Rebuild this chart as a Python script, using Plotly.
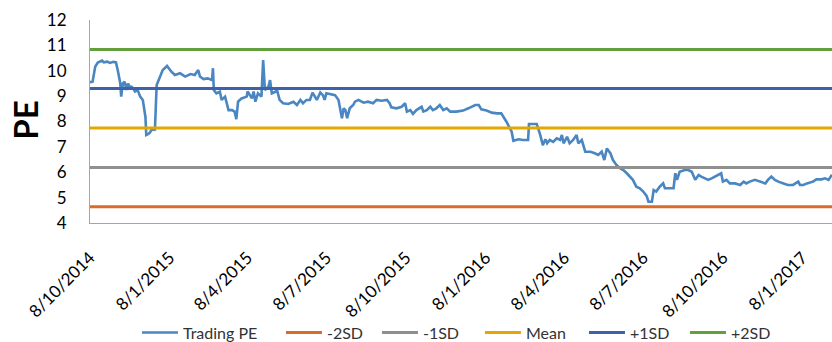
import plotly.graph_objects as go

# ---- data ----
dates = [
    "2014-10-08", "2014-10-11", "2014-10-14", "2014-10-17", "2014-10-22", "2014-10-24", "2014-10-28", "2014-10-31",
    "2014-11-04", "2014-11-07", "2014-11-09", "2014-11-12", "2014-11-13", "2014-11-15", "2014-11-17", "2014-11-19",
    "2014-11-21", "2014-11-23", "2014-11-25", "2014-11-27", "2014-11-29", "2014-12-02", "2014-12-05", "2014-12-08",
    "2014-12-11", "2014-12-12", "2014-12-14", "2014-12-16", "2014-12-18", "2014-12-22", "2014-12-23", "2014-12-24",
    "2014-12-28", "2014-12-31", "2015-01-05", "2015-01-07", "2015-01-10", "2015-01-14", "2015-01-20", "2015-01-26",
    "2015-02-01", "2015-02-06", "2015-02-10", "2015-02-12", "2015-02-16", "2015-02-21", "2015-02-26", "2015-02-27",
    "2015-02-28", "2015-03-03", "2015-03-07", "2015-03-09", "2015-03-13", "2015-03-17", "2015-03-21", "2015-03-24",
    "2015-03-26", "2015-03-28", "2015-04-01", "2015-04-07", "2015-04-08", "2015-04-13", "2015-04-15", "2015-04-17",
    "2015-04-20", "2015-04-24", "2015-04-26", "2015-04-28", "2015-05-02", "2015-05-04", "2015-05-06", "2015-05-10",
    "2015-05-12", "2015-05-15", "2015-05-19", "2015-05-25", "2015-05-31", "2015-06-04", "2015-06-08", "2015-06-11",
    "2015-06-15", "2015-06-19", "2015-06-22", "2015-06-27", "2015-07-01", "2015-07-04", "2015-07-06", "2015-07-08",
    "2015-07-14", "2015-07-18", "2015-07-22", "2015-07-24", "2015-07-26", "2015-07-28", "2015-07-30", "2015-08-01",
    "2015-08-04", "2015-08-08", "2015-08-10", "2015-08-14", "2015-08-20", "2015-08-25", "2015-08-31", "2015-09-04",
    "2015-09-10", "2015-09-16", "2015-09-19", "2015-09-21", "2015-09-27", "2015-10-03", "2015-10-07", "2015-10-09",
    "2015-10-13", "2015-10-16", "2015-10-20", "2015-10-26", "2015-10-28", "2015-11-01", "2015-11-05", "2015-11-08",
    "2015-11-12", "2015-11-16", "2015-11-20", "2015-11-24", "2015-11-28", "2015-12-05", "2015-12-13", "2015-12-19",
    "2015-12-27", "2015-12-31", "2016-01-03", "2016-01-09", "2016-01-15", "2016-01-21", "2016-01-26", "2016-02-01",
    "2016-02-07", "2016-02-09", "2016-02-15", "2016-02-20", "2016-02-26", "2016-02-27", "2016-03-07", "2016-03-11",
    "2016-03-14", "2016-03-17", "2016-03-19", "2016-03-22", "2016-03-26", "2016-03-30", "2016-04-03", "2016-04-05",
    "2016-04-07", "2016-04-11", "2016-04-14", "2016-04-18", "2016-04-22", "2016-04-24", "2016-04-28", "2016-05-02",
    "2016-05-08", "2016-05-13", "2016-05-17", "2016-05-21", "2016-05-24", "2016-05-27", "2016-05-31", "2016-06-03",
    "2016-06-07", "2016-06-11", "2016-06-15", "2016-06-19", "2016-06-23", "2016-06-26", "2016-06-30", "2016-07-04",
    "2016-07-08", "2016-07-12", "2016-07-14", "2016-07-18", "2016-07-20", "2016-07-23", "2016-07-27", "2016-07-31",
    "2016-08-02", "2016-08-06", "2016-08-12", "2016-08-14", "2016-08-16", "2016-08-19", "2016-08-25", "2016-08-29",
    "2016-09-02", "2016-09-06", "2016-09-10", "2016-09-13", "2016-09-17", "2016-09-21", "2016-09-25", "2016-09-29",
    "2016-10-03", "2016-10-06", "2016-10-08", "2016-10-12", "2016-10-16", "2016-10-22", "2016-10-28", "2016-11-01",
    "2016-11-04", "2016-11-08", "2016-11-14", "2016-11-20", "2016-11-26", "2016-11-29", "2016-12-03", "2016-12-07",
    "2016-12-11", "2016-12-17", "2016-12-22", "2016-12-28", "2017-01-03", "2017-01-05", "2017-01-09", "2017-01-13",
    "2017-01-20", "2017-01-24", "2017-01-30", "2017-02-03", "2017-02-07", "2017-02-11",
]

trading_pe = [
    9.55, 9.57, 10.16, 10.32, 10.40, 10.33, 10.36, 10.31,
    10.35, 10.33, 10.03, 9.50, 8.98, 9.50, 9.57, 9.24,
    9.50, 9.35, 9.37, 9.30, 9.18, 9.24, 8.98, 8.85,
    8.19, 7.47, 7.50, 7.55, 7.67, 7.68, 8.58, 9.44,
    9.77, 10.03, 10.19, 10.10, 9.96, 9.83, 9.90, 9.77,
    9.87, 9.83, 10.03, 9.77, 9.67, 9.70, 9.63, 10.10,
    9.24, 9.11, 9.18, 8.85, 8.98, 8.45, 8.45, 8.39,
    8.09, 8.78, 8.91, 8.98, 9.18, 8.91, 9.18, 8.78,
    9.11, 8.98, 10.42, 9.24, 9.37, 9.63, 9.11, 9.17,
    9.24, 8.85, 8.72, 8.69, 8.78, 8.65, 8.85, 8.72,
    8.85, 8.85, 9.14, 8.85, 9.14, 9.04, 8.85, 9.11,
    9.08, 9.04, 8.85, 8.45, 8.13, 8.52, 8.45, 8.13,
    8.52, 8.65, 8.78, 8.85, 8.74, 8.78, 8.72, 8.85,
    8.82, 8.85, 8.72, 8.56, 8.52, 8.58, 8.72, 8.39,
    8.45, 8.30, 8.45, 8.58, 8.39, 8.45, 8.58, 8.45,
    8.52, 8.65, 8.45, 8.52, 8.39, 8.39, 8.43, 8.52,
    8.65, 8.65, 8.48, 8.43, 8.35, 8.32, 8.32, 7.99,
    7.60, 7.24, 7.30, 7.27, 7.27, 7.90, 7.90, 7.47,
    7.07, 7.30, 7.14, 7.27, 7.20, 7.34, 7.27, 7.47,
    7.14, 7.40, 7.14, 7.27, 7.47, 7.14, 7.27, 6.81,
    6.81, 6.75, 6.68, 6.81, 6.48, 6.94, 6.75, 6.48,
    6.29, 6.16, 6.09, 5.96, 5.83, 5.70, 5.43, 5.37,
    5.24, 5.06, 4.84, 4.84, 5.30, 5.24, 5.43, 5.56,
    5.37, 5.37, 5.37, 5.96, 5.70, 6.02, 6.09, 6.09,
    6.02, 5.70, 5.89, 5.83, 5.76, 5.70, 5.76, 5.83,
    5.89, 5.96, 5.63, 5.70, 5.56, 5.56, 5.50, 5.63,
    5.56, 5.63, 5.70, 5.63, 5.56, 5.70, 5.83, 5.70,
    5.63, 5.56, 5.50, 5.50, 5.63, 5.50, 5.50, 5.56,
    5.63, 5.72, 5.72, 5.76, 5.70, 5.90,
]

band_names = ["-2SD", "-1SD", "Mean", "+1SD", "+2SD"]
band_values = [4.64, 6.19, 7.74, 9.30, 10.84]

tick_dates = ["2014-10-08", "2015-01-08", "2015-04-08", "2015-07-08", "2015-10-08",
              "2016-01-08", "2016-04-08", "2016-07-08", "2016-10-08", "2017-01-08"]
tick_labels = ["8/10/2014", "8/1/2015", "8/4/2015", "8/7/2015", "8/10/2015",
               "8/1/2016", "8/4/2016", "8/7/2016", "8/10/2016", "8/1/2017"]

x_range = ["2014-10-08", "2017-02-11"]

# ---- styles ----
pe_color = "#4A86C1"
band_colors = ["#DA6B2B", "#8F8F8F", "#E3A800", "#3D62A9", "#63A03D"]
legend_widths = [93, 45, 52, 53, 50, 45]  # px per legend entry (layout only)
FONT = "Lato, 'Open Sans', sans-serif"

fig = go.Figure()
fig.add_trace(go.Scatter(x=dates, y=trading_pe, mode="lines", name="Trading PE",
                         line=dict(color=pe_color, width=2.6),
                         legendwidth=legend_widths[0]))
for i, (name, val, col) in enumerate(zip(band_names, band_values, band_colors)):
    fig.add_trace(go.Scatter(x=x_range, y=[val, val], mode="lines", name=name,
                             line=dict(color=col, width=3),
                             legendwidth=legend_widths[i + 1]))

fig.update_layout(
    width=832, height=342,
    margin=dict(l=90, r=0, t=20, b=119, autoexpand=False),
    paper_bgcolor="white", plot_bgcolor="white",
    font=dict(family=FONT, size=16, color="#000000"),
    showlegend=True,
    legend=dict(orientation="h", x=0.0633, xanchor="left", y=-0.54, yanchor="middle",
                font=dict(size=16, color="#333333"), itemwidth=36,
                tracegroupgap=0, bgcolor="rgba(0,0,0,0)"),
    xaxis=dict(type="date", range=x_range, tickmode="array", tickvals=tick_dates,
               ticktext=tick_labels, tickangle=-45, showgrid=False, zeroline=False,
               showline=True, linecolor="#A6A6A6", linewidth=1, ticks="",
               automargin=False,
               tickfont=dict(size=17, color="#000000"), ticklabelstandoff=17),
    yaxis=dict(range=[4, 12], tickmode="linear", dtick=1, showgrid=False, zeroline=False,
               showline=True, linecolor="#A6A6A6", linewidth=1, ticks="",
               automargin=False,
               tickfont=dict(size=17, color="#000000"), ticklabelstandoff=19),
    annotations=[dict(text="<b>PE</b>", xref="paper", yref="paper",
                      x=-0.088, y=0.507, xanchor="center", yanchor="middle",
                      textangle=-90, showarrow=False,
                      font=dict(family=FONT, size=33, color="#000000"))],
)

fig.write_html("out.html",
               config={"displayModeBar": False},
               post_script="document.body.style.margin='0';document.body.style.overflow='hidden';")
